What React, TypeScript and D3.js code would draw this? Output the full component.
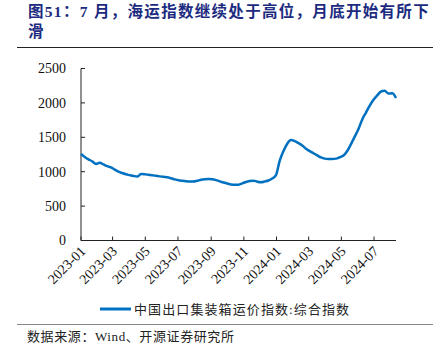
import { useEffect, useRef } from 'react';
import * as d3 from 'd3';

// CCFI composite, weekly (Fridays) from 2023-01-06 to 2024-08-16
const startDate = '2023-01-06';
const ccfi = [
  1257, 1215, 1180, 1150, 1112, 1130, 1105, 1080, 1062, 1030,
  1000, 980, 962, 950, 938, 930, 965, 962, 955, 948,
  940, 932, 925, 920, 905, 888, 875, 868, 862, 858,
  857, 868, 882, 890, 893, 890, 878, 860, 842, 828,
  815, 809, 812, 830, 850, 866, 870, 855, 848, 858,
  872, 900, 950, 1160, 1300, 1407, 1460, 1445, 1415, 1382,
  1335, 1300, 1268, 1237, 1207, 1190, 1185, 1185, 1190, 1210,
  1235, 1300, 1400, 1510, 1620, 1760, 1860, 1960, 2045, 2110,
  2165, 2175, 2135, 2140, 2071,
];
const yTicks = [0, 500, 1000, 1500, 2000, 2500];
const tickMonths = ['2023-01', '2023-03', '2023-05', '2023-07', '2023-09', '2023-11',
  '2024-01', '2024-03', '2024-05', '2024-07'];

const titleLine1 = '图51：7 月，海运指数继续处于高位，月底开始有所下';
const titleLine2 = '滑';
const legendLabel = '中国出口集装箱运价指数:综合指数';
const sourceText = '数据来源：Wind、开源证券研究所';

export default function App() {
  const svgRef = useRef<SVGSVGElement>(null);

  useEffect(() => {
    if (!svgRef.current) return;
    const width = 442;
    const height = 354;
    const svg = d3.select(svgRef.current).attr('width', width).attr('height', height);
    svg.selectAll('*').remove();

    const parse = d3.timeParse('%Y-%m-%d');
    const t0 = parse(startDate)!;
    const data = ccfi.map((v, i) => ({ date: d3.timeDay.offset(t0, i * 7), value: v }));

    const left = 81, right = 396, top = 68.5, bottom = 240.5;
    const x = d3.scaleTime()
      .domain([t0, data[data.length - 1].date])
      .range([left, right]);
    const y = d3.scaleLinear().domain([0, 2500]).range([bottom, top]);

    const serif = '"Liberation Serif", "Times New Roman", serif';
    const cjk = '"Liberation Serif", "Noto Sans CJK SC", sans-serif';

    // title
    const title = svg.append('g')
      .style('font-family', cjk)
      .style('font-weight', 'bold')
      .style('font-size', '15.5px')
      .attr('fill', '#1c2b80');
    title.append('text').attr('x', 28).attr('y', 17)
      .style('letter-spacing', '1.3px')
      .text(titleLine1);
    title.append('text').attr('x', 28).attr('y', 37).text(titleLine2);

    svg.append('line')
      .attr('x1', 17).attr('x2', 433).attr('y1', 47.5).attr('y2', 47.5)
      .attr('stroke', '#222').attr('stroke-width', 1);

    // y axis
    const g = svg.append('g');
    g.append('line')
      .attr('x1', left).attr('x2', left).attr('y1', top).attr('y2', bottom)
      .attr('stroke', '#222').attr('stroke-width', 1);
    yTicks.forEach(t => {
      g.append('line')
        .attr('x1', left).attr('x2', left + 4).attr('y1', y(t)).attr('y2', y(t))
        .attr('stroke', '#222');
      g.append('text')
        .attr('x', 66).attr('y', y(t)).attr('dy', '0.35em')
        .attr('text-anchor', 'end')
        .style('font-family', serif).style('font-size', '14px')
        .attr('fill', '#111')
        .text(String(t));
    });

    // x axis
    g.append('line')
      .attr('x1', left).attr('x2', right).attr('y1', bottom).attr('y2', bottom)
      .attr('stroke', '#222').attr('stroke-width', 1);
    tickMonths.forEach(m => {
      const d = d3.timeMonth.offset(t0, (+m.slice(0, 4) - 2023) * 12 + (+m.slice(5) - 1));
      const tx = x(d);
      g.append('line')
        .attr('x1', tx).attr('x2', tx).attr('y1', bottom).attr('y2', bottom - 4)
        .attr('stroke', '#222');
      g.append('text')
        .attr('transform', `translate(${tx + 2},${bottom + 8}) rotate(-45)`)
        .attr('text-anchor', 'end')
        .attr('dy', '0.35em')
        .style('font-family', serif).style('font-size', '14px')
        .attr('fill', '#111')
        .text(m);
    });

    // line
    const line = d3.line<{ date: Date; value: number }>()
      .x(d => x(d.date))
      .y(d => y(d.value))
      .curve(d3.curveMonotoneX);
    svg.append('path')
      .datum(data)
      .attr('d', line)
      .attr('fill', 'none')
      .attr('stroke', '#0070c0')
      .attr('stroke-width', 2.5)
      .attr('stroke-linejoin', 'round');

    // legend
    svg.append('line')
      .attr('x1', 100).attr('x2', 131).attr('y1', 309).attr('y2', 309)
      .attr('stroke', '#0070c0').attr('stroke-width', 3);
    svg.append('text')
      .attr('x', 134).attr('y', 314)
      .style('letter-spacing', '1.1px')
      .style('font-family', cjk).style('font-size', '13px')
      .attr('fill', '#222')
      .text(legendLabel);

    svg.append('line')
      .attr('x1', 17).attr('x2', 433).attr('y1', 324.5).attr('y2', 324.5)
      .attr('stroke', '#888').attr('stroke-width', 1.2);

    svg.append('text')
      .attr('x', 27).attr('y', 341)
      .style('letter-spacing', '0.6px')
      .style('font-family', cjk).style('font-size', '13px')
      .attr('fill', '#222')
      .text(sourceText);
  }, []);

  return (
    <div style={{ position: 'absolute', left: 0, top: 0 }}>
      <svg ref={svgRef} style={{ display: 'block', background: '#fff' }}></svg>
    </div>
  );
}
